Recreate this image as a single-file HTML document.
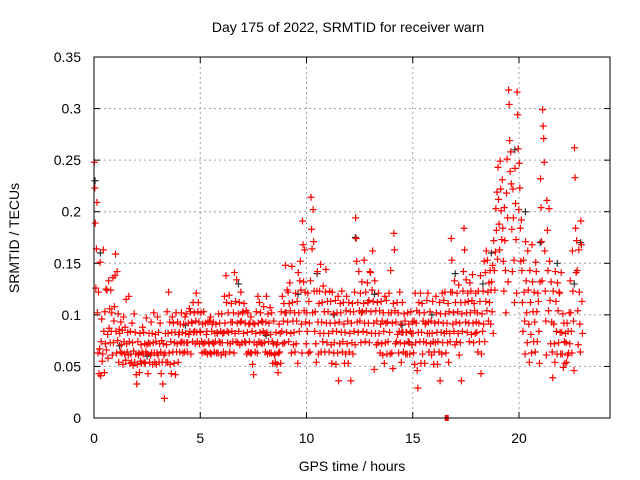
<!DOCTYPE html>
<html><head><meta charset="utf-8"><style>
body{margin:0;background:#fff}
svg{display:block;font-family:"Liberation Sans",sans-serif;font-size:14px}
</style></head><body>
<svg id="chart" width="640" height="480">
<text x="348" y="32" text-anchor="middle">Day 175 of 2022, SRMTID for receiver warn</text>
<text x="352" y="471" text-anchor="middle">GPS time / hours</text>
<text transform="translate(19,238) rotate(-90)" text-anchor="middle">SRMTID / TECUs</text>
<g id="grid"></g>
<g id="ticks"></g>
<g id="black"></g>
<g id="red"></g>
<rect x="94" y="57" width="516" height="361" fill="none" stroke="#000"/>
</svg>
<script>
const xTicks=[0,5,10,15,20];
const yTicks=[0,0.05,0.1,0.15,0.2,0.25,0.3,0.35];
const yTickLabels=["0","0.05","0.1","0.15","0.2","0.25","0.3","0.35"];
const binWidth=0.1;
// red series values (hundredths of TECU) per 0.1 h bin starting at 0 h
const redV=[
[24.8,22.3,18.9,12.6],[16.4,20.9,10.2,6.3],[12.2,4.3,6.7,15.1],[4.1,7.4,9.6,5.5],[6.2,16.3,8.4,4.4],[10.3,7.2,12.5,6.6],[12.4,8.1,5.8,13.3],[8.7,10.6,7.3,12.4],[8.4,10.2,6.1,13.6],[7.3,9.4,10.8,13.8],
[15.9,8.4,6.3,14.2],[7.5,10.1,5.4,8.6],[8.2,6.4,9.3,7.1],[6.3,8.5,5.2,9.8],[7.4,6.2,8.8,5.6],[11.5,7.2,6.4,8.3],[6.1,11.8,7.4,5.3],[8.4,6.2,5.4,9.2],[7.3,5.1,6.5,10.1],[5.4,8.3,6.2,4.2],
[3.3,5.2,7.4,6.1],[6.3,4.4,8.2,5.5],[7.1,5.3,6.4,8.8],[6.2,8.3,5.4,7.2],[5.3,6.4,9.7,7.1],[6.2,4.3,7.3,8.2],[5.4,7.2,6.1,9.3],[6.3,8.2,5.2,7.3],[10.2,6.3,5.4,8.1],[7.4,5.2,6.3,9.8],
[6.1,8.3,5.4,7.2],[9.2,6.4,4.3,7.5],[5.4,3.3,7.2,6.1],[1.9,6.3,8.2,5.4],[7.1,10.3,5.4,8.2],[12.2,6.3,9.3,5.2],[7.4,4.3,8.3,9.8],[6.4,9.2,5.3,7.3],[8.3,4.2,10.2,6.4],[7.2,9.3,5.4,8.1],
[8.3,6.4,9.1,7.3],[10.2,7.4,8.3,6.3],[9.1,7.3,6.4,9.8],[8.2,10.1,7.3,6.4],[7.3,9.2,8.1,10.6],[8.4,10.3,6.2,9.3],[9.2,7.4,11.2,8.3],[10.2,8.4,7.2,9.4],[12.1,8.3,7.4,10.3],[11.2,9.3,7.2,8.4],
[8.3,10.2,7.4,6.3],[9.1,7.2,10.3,6.4],[7.3,9.2,6.4,8.1],[8.4,6.2,9.3,7.4],[7.2,9.4,6.3,9.8],[6.2,8.4,9.1,7.3],[9.3,7.2,6.4,8.2],[7.4,9.1,6.3,8.3],[8.2,6.3,10.1,7.4],[9.2,7.3,8.4,6.1],
[10.1,7.3,8.2,6.4],[8.3,11.8,9.2,6.2],[13.8,11.2,8.4,7.3],[10.2,8.3,11.9,6.4],[7.2,9.3,11.1,8.4],[9.3,7.4,10.2,6.3],[14.1,8.2,11.3,7.4],[13.4,9.2,7.3,10.1],[8.4,11.2,7.1,9.3],[12.2,9.4,7.3,10.2],
[10.3,8.2,11.1,7.4],[9.2,7.3,10.4,6.2],[8.3,10.2,6.4,9.1],[7.4,9.2,6.3,9.8],[6.3,8.4,5.2,9.2],[4.2,7.3,9.1,6.4],[8.2,10.3,7.1,6.3],[11.8,9.2,7.4,11.2],[8.3,10.2,7.3,9.4],[7.2,9.3,8.4,10.8],
[7.3,8.2,6.4,9.3],[11.8,8.3,6.2,10.1],[7.4,9.2,6.3,10.7],[8.1,6.3,10.2,7.4],[5.3,7.2,9.4,6.1],[6.2,5.4,8.3,7.1],[5.2,7.3,4.4,6.3],[9.1,6.4,8.2,5.3],[10.3,8.4,11.8,7.2],[9.4,11.1,7.3,10.2],
[14.8,10.2,8.3,12.4],[9.3,12.2,7.4,11.1],[13.1,10.4,8.2,6.3],[14.7,11.2,9.4,7.1],[8.3,10.2,6.4,12.1],[7.2,9.4,11.3,5.3],[14.1,10.2,8.4,13.3],[15.2,12.4,9.1,6.3],[19.1,16.8,13.2,10.4],[16.3,12.2,9.3,7.2],
[10.2,8.4,12.1,6.3],[11.3,9.2,6.4,13.3],[21.4,18.3,16.4,10.2],[20.2,17.1,12.3,8.4],[10.3,7.2,5.4,12.3],[14.2,9.3,6.2,11.1],[12.3,8.2,14.9,6.4],[9.3,11.2,7.4,12.8],[8.2,10.3,6.4,12.2],[14.4,9.2,7.3,11.3],
[10.3,8.2,6.4,12.3],[9.2,11.3,7.1,5.3],[12.2,8.4,10.1,6.3],[7.3,9.2,11.4,5.2],[8.4,10.2,6.3,11.8],[3.6,9.3,7.2,11.1],[10.2,8.3,12.3,6.4],[7.4,11.2,9.1,5.3],[8.3,6.2,10.4,11.8],[7.2,9.4,5.3,11.2],
[6.4,8.2,10.3,3.6],[9.2,7.3,11.1,6.2],[10.3,8.4,12.2,7.1],[19.4,17.4,15.2,9.3],[11.2,8.3,14.2,10.4],[9.4,12.1,7.3,10.2],[13.2,10.3,8.4,11.1],[15.3,9.2,7.4,12.2],[10.4,8.3,13.1,11.2],[9.2,11.4,7.3,14.2],
[14.1,10.3,8.2,12.4],[16.2,11.3,9.2,4.7],[13.3,8.2,10.4,7.1],[9.4,11.2,7.3,12.1],[8.2,10.4,6.3,9.1],[11.3,7.2,9.4,6.1],[10.2,8.4,5.3,11.8],[7.3,9.2,11.4,6.2],[9.3,7.4,10.2,12.1],[8.3,6.2,14.3,10.2],
[6.3,9.2,4.8,11.1],[17.9,16.3,10.4,7.2],[9.3,7.4,11.2,8.1],[10.2,6.3,8.4,12.2],[7.3,9.1,5.4,8.3],[11.2,8.3,6.4,10.1],[7.2,9.4,6.2,8.3],[8.3,6.2,10.2,7.4],[9.1,7.3,6.2,8.4],[10.3,8.2,7.1,9.3],
[8.2,6.3,9.4,5.2],[12.1,7.3,9.2,10.4],[4.6,2.9,8.3,11.2],[10.2,7.4,12.1,5.3],[8.3,11.1,6.2,9.4],[7.4,10.2,5.3,9.1],[9.2,7.3,11.4,8.2],[12.1,9.3,6.4,8.2],[10.3,7.2,9.4,6.1],[8.2,11.3,7.4,5.2],
[6.4,9.2,7.3,11.8],[10.2,8.3,5.2,7.4],[9.3,6.4,11.2,3.6],[10.1,8.3,6.2,12.1],[7.3,9.2,11.4,8.2],[12.2,10.1,6.3,8.4],[9.2,7.3,11.1,5.4],[10.3,8.2,7.4,12.2],[17.4,15.3,12.2,9.1],[10.2,8.4,13.3,7.1],
[11.2,9.3,7.4,12.1],[10.3,8.2,12.9,6.1],[9.2,7.3,11.2,3.6],[10.1,8.4,12.3,14.2],[18.4,16.3,11.2,9.3],[13.4,10.2,8.3,12.1],[11.3,9.2,7.4,13.1],[10.2,12.3,8.1,11.4],[13.9,9.2,7.3,11.1],[10.4,8.2,12.1,9.3],
[8.3,10.2,6.4,12.3],[9.2,7.4,11.3,13.8],[4.3,6.2,10.1,8.4],[12.3,9.1,15.2,7.4],[14.1,11.3,16.2,10.4],[15.3,12.2,9.4,13.1],[11.2,14.3,9.1,12.4],[13.2,10.3,14.8,8.2],[17.2,14.3,12.4,16.1],[20.3,18.2,21.9,15.4],
[24.3,21.2,18.8,16.3],[24.9,22.2,20.1,17.3],[23.1,18.4,15.2,12.3],[20.4,17.2,14.3,10.2],[21.8,25.1,19.4,13.2],[31.8,30.4,26.9,23.9],[25.8,22.7,18.3,14.2],[22.2,19.4,15.3,11.2],[24.2,20.8,17.3,12.1],[31.6,29.4,26.1,20.2],
[24.7,22.3,18.4,15.2],[19.2,14.3,11.2,8.4],[15.3,12.2,9.4,6.2],[17.1,13.3,10.2,7.3],[16.2,12.4,9.1,5.4],[14.3,11.2,8.1,6.3],[16.8,13.2,10.3,7.4],[12.2,9.3,6.4,15.1],[14.2,10.3,7.4,12.1],[11.3,8.4,5.3,13.2],
[23.2,20.4,17.1,13.3],[29.9,28.3,27.1,24.8],[16.2,12.3,9.4,6.1],[21.1,18.2,14.3,10.4],[20.3,15.2,11.4,7.2],[13.2,9.3,6.4,3.9],[12.3,9.1,7.2,5.4],[14.2,11.3,8.4,6.2],[13.1,10.4,7.3,12.2],[12.1,8.3,6.2,14.1],
[8.3,6.2,10.1,4.9],[9.2,7.4,5.3,8.2],[7.3,5.4,9.2,6.1],[8.4,6.3,10.2,7.2],[13.3,10.2,8.4,6.3],[16.2,12.3,9.4,4.6],[26.2,23.3,18.4,14.1],[17.2,14.3,10.4,7.1],[16.3,12.2,9.1,6.4],[19.1,16.8,11.3,8.2]
];
// black series points [hour, TECU]
const blackPts=[[0.05,0.23],[0.3,0.16],[1.2,0.07],[2.5,0.06],[4.3,0.09],[6.8,0.13],[8.1,0.08],[9.6,0.12],[10.5,0.14],[11.3,0.1],[12.3,0.175],[13.2,0.12],[14.5,0.09],[15.9,0.1],[17.0,0.14],[18.3,0.13],[18.7,0.16],[19.8,0.26],[20.3,0.2],[21.0,0.17],[21.8,0.15],[22.6,0.13],[22.9,0.17]];
const flagPts=[[16.6,0]];
const X=t=>94+t*21.25, Y=v=>418-v*1031.4;
const NS="http://www.w3.org/2000/svg";
const grid=document.getElementById('grid'),ticks=document.getElementById('ticks');
function mk(tag,attrs,parent){const e=document.createElementNS(NS,tag);for(const k in attrs)e.setAttribute(k,attrs[k]);parent.appendChild(e);return e;}
xTicks.forEach(t=>{
 const x=X(t);
 if(t>0){const g=mk('line',{x1:x,x2:x,y1:57,y2:418,stroke:'#a0a0a0','stroke-dasharray':'2,3'},grid);
 
 }
 mk('line',{x1:x,x2:x,y1:418,y2:412,stroke:'#000'},ticks);
 mk('line',{x1:x,x2:x,y1:57,y2:63,stroke:'#000'},ticks);
 const l=mk('text',{x:x,y:443,'text-anchor':'middle'},ticks);l.textContent=t;
 
 
});
yTicks.forEach((v,i)=>{
 const y=Y(v);
 if(v>0&&i<yTicks.length-1){const g=mk('line',{x1:94,x2:610,y1:y,y2:y,stroke:'#a0a0a0','stroke-dasharray':'2,3'},grid);
 
 }
 mk('line',{x1:94,x2:100,y1:y,y2:y,stroke:'#000'},ticks);
 mk('line',{x1:610,x2:604,y1:y,y2:y,stroke:'#000'},ticks);
 const l=mk('text',{x:81,y:y+5,'text-anchor':'end'},ticks);l.textContent=yTickLabels[i];
 
 
});
function plus(x,y,col,parent){const p=mk('path',{d:`M${x-3.5},${y}h7M${x},${y-3.5}v7`,stroke:col,'stroke-width':1.2},parent);
 
 }
const bg=document.getElementById('black'),rg=document.getElementById('red');
blackPts.forEach(p=>plus(X(p[0]),Y(p[1]),'#333',bg));
redV.forEach((vals,i)=>{vals.forEach((v,j)=>{const t=i*binWidth+binWidth*(j+0.5)/vals.length;plus(X(t),Y(v/100),'#f00',rg);});});
flagPts.forEach(p=>{const r=mk('rect',{x:X(p[0])-2,y:Y(p[1])-3,width:4,height:6,fill:'#f00'},rg);
 
 });
</script>
</body></html>
